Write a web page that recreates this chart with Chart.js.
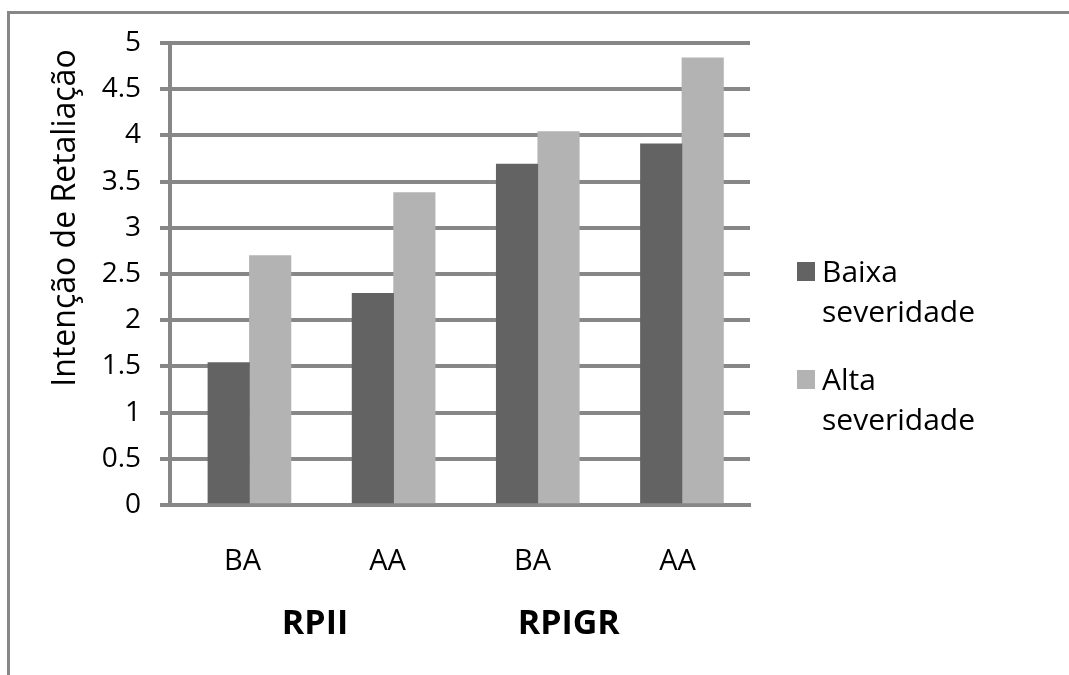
<!DOCTYPE html>
<html>
<head>
<meta charset="utf-8">
<script src="https://cdn.jsdelivr.net/npm/chart.js@4.4.0/dist/chart.umd.min.js"></script>
<style>
  html, body { margin: 0; padding: 0; background: #fff; overflow: hidden; }
  #moldura { position: absolute; left: 7px; top: 11px; width: 2000px; height: 2000px;
             border-top: 3px solid #878787; border-left: 3px solid #878787; }
  #wrap { position: absolute; left: 0; top: 0; width: 1069px; height: 675px; }
</style>
</head>
<body>
<div id="moldura"></div>
<div id="wrap"><canvas id="grafico" width="1069" height="675"></canvas></div>
<script>
    // Dados
    var categorias = ['BA', 'AA', 'BA', 'AA'];
    var grupos = ['RPII', 'RPIGR'];
    var baixaSeveridade = [1.54, 2.29, 3.69, 3.91];
    var altaSeveridade = [2.70, 3.38, 4.04, 4.84];
    var yTicks = [0, 0.5, 1, 1.5, 2, 2.5, 3, 3.5, 4, 4.5, 5];
    var tituloY = 'Intenção de Retaliação';

    var fonte = "'Open Sans', sans-serif";
    var cinzaGrade = '#878787';

    // pontos {x, y} para o eixo linear das barras
    function pontos(valores) {
        return valores.map(function (v, i) { return { x: i, y: v }; });
    }

    // Desenha título do eixo, legenda e rótulos dos grupos
    var extras = {
        id: 'extras',
        afterDraw: function (chart) {
            var ctx = chart.ctx;
            var xs = chart.scales.x;
            ctx.save();
            ctx.fillStyle = '#000';

            // título do eixo Y
            ctx.font = '32px ' + fonte;
            ctx.textAlign = 'center';
            ctx.textBaseline = 'alphabetic';
            ctx.save();
            ctx.translate(75, 218);
            ctx.rotate(-Math.PI / 2);
            ctx.fillText(tituloY, 0, 0);
            ctx.restore();

            // rótulos dos grupos
            ctx.font = 'bold 34px ' + fonte;
            var posGrupos = [0.5, 2.25];
            grupos.forEach(function (g, i) {
                ctx.fillText(g, xs.getPixelForValue(posGrupos[i]), 634);
            });

            // legenda
            ctx.font = '30px ' + fonte;
            ctx.textAlign = 'left';
            chart.data.datasets.forEach(function (ds, i) {
                var base = 282 + i * 108;
                ctx.fillStyle = ds.backgroundColor;
                ctx.fillRect(797, base - 20, 18, 19);
                ctx.fillStyle = '#000';
                ds.label.split(' ').forEach(function (linha, j) {
                    ctx.fillText(linha, 822, base + j * 40);
                });
            });
            ctx.restore();
        }
    };

    var ctx1 = document.getElementById('grafico').getContext('2d');
    var grafico = new Chart(ctx1, {
        type: 'bar',
        data: {
            labels: categorias,
            datasets: [
                {
                    label: 'Baixa severidade',
                    data: pontos(baixaSeveridade),
                    xAxisID: 'xb',
                    backgroundColor: '#636363',
                    barThickness: 41.5
                },
                {
                    label: 'Alta severidade',
                    data: pontos(altaSeveridade),
                    xAxisID: 'xb',
                    backgroundColor: '#b3b3b3',
                    barThickness: 41.5
                }
            ]
        },
        options: {
            responsive: false,
            animation: false,
            layout: { padding: { top: 43, right: 319, left: 0, bottom: 0 } },
            plugins: {
                legend: { display: false },
                tooltip: { enabled: false }
            },
            scales: {
                x: {
                    type: 'category',
                    grid: { display: false },
                    border: { display: true, color: cinzaGrade, width: 4 },
                    ticks: { color: '#000', padding: 31, font: { family: fonte, size: 29 } },
                    afterFit: function (s) { s.height = 170; }
                },
                xb: {
                    type: 'linear',
                    position: 'bottom',
                    display: false,
                    offset: false,
                    min: -0.551,
                    max: 3.472
                },
                y: {
                    min: 0,
                    max: 5,
                    afterBuildTicks: function (s) {
                        s.ticks = yTicks.map(function (v) { return { value: v }; });
                    },
                    grid: { color: cinzaGrade, lineWidth: 4, tickLength: 10 },
                    border: { display: true, color: cinzaGrade, width: 4 },
                    ticks: {
                        color: '#000', padding: 19, font: { family: fonte, size: 28 },
                        callback: function (v) { return String(v); }
                    },
                    afterFit: function (s) { s.width = 170; }
                }
            }
        },
        plugins: [extras]
    });
</script>
</body>
</html>
